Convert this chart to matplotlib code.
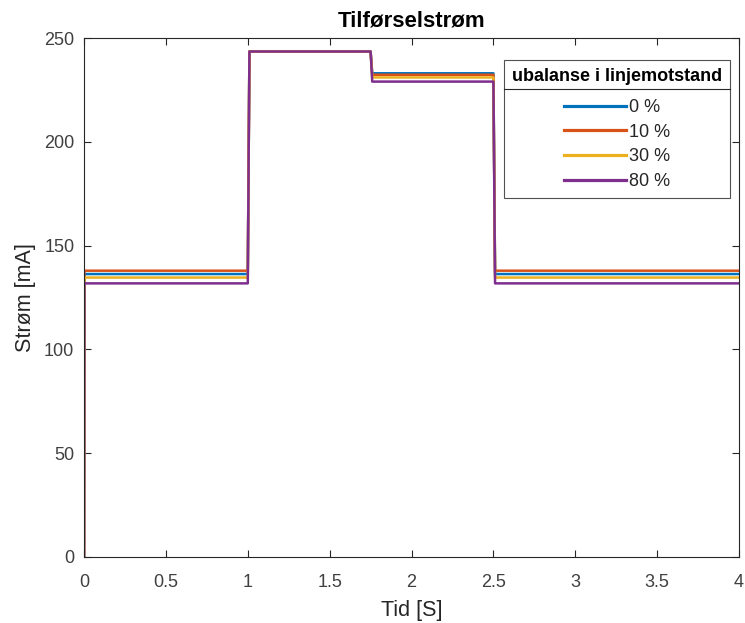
import matplotlib
matplotlib.use("Agg")
import matplotlib.pyplot as plt
from matplotlib.lines import Line2D

plt.rcParams['font.family'] = ['Liberation Sans', 'DejaVu Sans']

# Time instants where the supply current switches level
switch_times = [0.0, 1.0, 1.75, 2.5, 4.0]
ramp = 0.01

# Current level [mA] in each interval, per line-resistance imbalance
labels = ['0 %', '10 %', '30 %', '80 %']
levels_0 = [136.3, 243.5, 233.0, 136.3]
levels_10 = [137.9, 243.5, 232.3, 137.9]
levels_30 = [134.6, 243.5, 231.0, 134.6]
levels_80 = [131.8, 243.5, 229.0, 131.8]
series = [levels_0, levels_10, levels_30, levels_80]
colors = ['#0072BD', '#D95319', '#EDB120', '#7E2F8E']

x_ticks = [0, 0.5, 1, 1.5, 2, 2.5, 3, 3.5, 4]
x_tick_labels = ['0', '0.5', '1', '1.5', '2', '2.5', '3', '3.5', '4']
y_ticks = [0, 50, 100, 150, 200, 250]


def step_trace(levels):
    t = [switch_times[0]]
    y = [0.0]
    for i, lev in enumerate(levels):
        start = switch_times[i] + (0.002 if i == 0 else ramp)
        end = switch_times[i + 1]
        t += [start, end]
        y += [lev, lev]
    return t, y


fig = plt.figure(figsize=(7.45, 6.23), dpi=100)
ax = fig.add_axes([0.1128, 0.106, 0.8792, 0.833])

for lev, col, lab in zip(series, colors, labels):
    t, y = step_trace(lev)
    ax.plot(t, y, color=col, lw=1.8, label=lab)

ax.set_xlim(0, 4)
ax.set_ylim(0, 250)
ax.set_xticks(x_ticks)
ax.set_xticklabels(x_tick_labels)
ax.set_yticks(y_ticks)

axcol = '#262626'
for sp in ax.spines.values():
    sp.set_color(axcol)
    sp.set_linewidth(0.8)
ax.tick_params(direction='in', length=5, width=0.8, colors=axcol,
               labelsize=13, top=True, right=True, pad=7)
ax.tick_params(axis='x', pad=12)
for lbl in ax.get_xticklabels() + ax.get_yticklabels():
    lbl.set_color('#404040')

ax.set_xlabel('Tid [S]', fontsize=15.5, color='#262626', labelpad=6.5)
ax.set_ylabel('Strøm [mA]', fontsize=15.5, color='#262626', labelpad=6)
ax.set_title('Tilførselstrøm', fontsize=16, fontweight='bold',
             color='black', pad=8)

handles = [Line2D([0], [0], color=c, lw=2.3) for c in colors]
leg = ax.legend(handles, labels, title='ubalanse i linjemotstand',
                loc='upper right', bbox_to_anchor=(0.9863, 0.9576),
                borderaxespad=0, fontsize=13,
                title_fontproperties={'weight': 'bold', 'size': 13},
                frameon=True, fancybox=False, edgecolor='#262626',
                handlelength=3.45, handletextpad=0.2, labelspacing=0.43,
                borderpad=0.44)
leg.get_frame().set_linewidth(0.8)
leg._legend_box.align = 'center'
title_gap = 10
leg._legend_box.sep = title_gap
for txt in leg.get_texts():
    txt.set_color('#262626')

fig.canvas.draw()
renderer = fig.canvas.get_renderer()
lb = leg.get_window_extent(renderer)
tb = leg.get_title().get_window_extent(renderer)
sep_y = tb.y0 - 0.3 * title_gap * renderer.points_to_pixels(1.0)
inv = fig.transFigure.inverted()
(x0, y0) = inv.transform((lb.x0, sep_y))
(x1, _) = inv.transform((lb.x1, sep_y))
fig.add_artist(Line2D([x0, x1], [y0, y0], color='#262626', lw=0.8,
                      transform=fig.transFigure))

fig.savefig('out.png', dpi=100, facecolor='white')
